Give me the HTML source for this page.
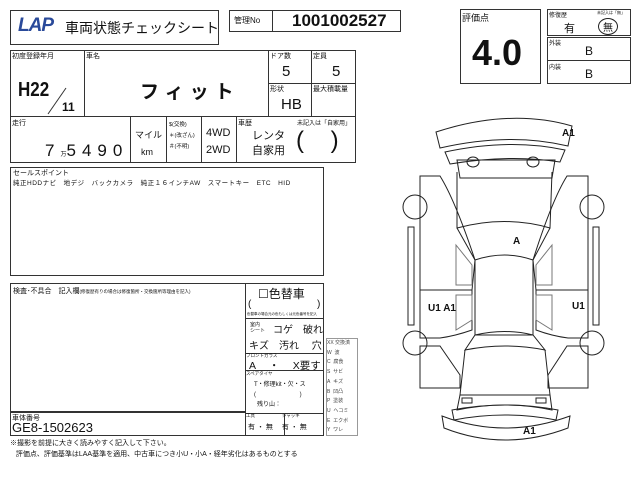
<!DOCTYPE html>
<html><head><meta charset="utf-8"><style>
body{margin:0;width:640px;height:480px;background:#fff;position:relative;overflow:hidden;font-family:"Liberation Sans","Noto Sans CJK JP",sans-serif;color:#111}
.a{position:absolute;white-space:nowrap}
.b{position:absolute;border:1.5px solid #333;box-sizing:border-box}
.l{position:absolute;background:#333}
.s{font-size:7px}
</style></head><body>
<div class="b" style="left:10px;top:10px;width:209px;height:35px"></div>
<div class="a" style="left:18px;top:15px;font-size:19px;font-weight:bold;font-style:italic;color:#2a4a9a;letter-spacing:-1px">LAP</div>
<div class="a" style="left:65px;top:18px;font-size:14px">車両状態チェックシート</div>
<div class="b" style="left:229px;top:10px;width:172px;height:22px"></div>
<div class="l" style="left:272px;top:10px;width:1px;height:22px"></div>
<div class="a" style="left:234px;top:15px;font-size:8px">管理No</div>
<div class="a" style="left:292px;top:11px;font-size:17px;font-weight:bold">1001002527</div>

<div class="b" style="left:10px;top:50px;width:346px;height:113px"></div>
<div class="l" style="left:10px;top:116px;width:346px;height:1px"></div>
<div class="l" style="left:84px;top:50px;width:1px;height:66px"></div>
<div class="l" style="left:268px;top:50px;width:1px;height:66px"></div>
<div class="l" style="left:311px;top:50px;width:1px;height:66px"></div>
<div class="l" style="left:268px;top:83px;width:88px;height:1px"></div>
<div class="a s" style="left:12px;top:51px">初度登録年月</div>
<div class="a s" style="left:86px;top:51px">車名</div>
<div class="a s" style="left:270px;top:51px">ドア数</div>
<div class="a s" style="left:313px;top:51px">定員</div>
<div class="a s" style="left:270px;top:84px">形状</div>
<div class="a s" style="left:313px;top:84px">最大積載量</div>
<div class="a" style="left:18px;top:79px;font-size:20px;font-weight:bold;transform:scaleX(0.85);transform-origin:left">H22</div>
<svg class="a" style="left:40px;top:86px" width="30" height="30"><line x1="26" y1="2" x2="8" y2="28" stroke="#333"/></svg>
<div class="a" style="left:62px;top:100px;font-size:12px;font-weight:bold">11</div>
<div class="a" style="left:140px;top:77px;font-size:19px;font-weight:bold;letter-spacing:6px">フィット</div>
<div class="a" style="left:282px;top:63px;font-size:15px">5</div>
<div class="a" style="left:332px;top:63px;font-size:15px">5</div>
<div class="a" style="left:281px;top:96px;font-size:15px">HB</div>
<div class="l" style="left:130px;top:116px;width:1px;height:47px"></div>
<div class="l" style="left:166px;top:116px;width:1px;height:47px"></div>
<div class="l" style="left:201px;top:116px;width:1px;height:47px"></div>
<div class="l" style="left:236px;top:116px;width:1px;height:47px"></div>
<div class="a s" style="left:12px;top:118px">走行</div>
<div class="a" style="left:45px;top:141px;font-size:17px;letter-spacing:6px">7<span style="font-size:6px;letter-spacing:0">万</span>5490</div>
<div class="a" style="left:135px;top:128px;font-size:9px">マイル</div>
<div class="a" style="left:141px;top:147px;font-size:9px">km</div>
<div class="a" style="left:169px;top:120px;font-size:5.5px;line-height:11px">$(交換)<br>＊(改ざん)<br>＃(不明)</div>
<div class="a" style="left:206px;top:125px;font-size:11px;line-height:17px">4WD<br>2WD</div>
<div class="a s" style="left:238px;top:118px">車歴</div>
<div class="a" style="left:297px;top:118px;font-size:6px">未記入は「自家用」</div>
<div class="a" style="left:252px;top:129px;font-size:11px;line-height:15px;text-align:center">レンタ<br>自家用</div>
<div class="a" style="left:296px;top:127px;font-size:24px;font-weight:100">(&nbsp;&nbsp;&nbsp;&nbsp;)</div>

<div class="b" style="left:10px;top:167px;width:314px;height:109px"></div>
<div class="a s" style="left:13px;top:168px">セールスポイント</div>
<div class="a" style="left:13px;top:177px;font-size:6.5px;letter-spacing:0.5px">純正HDDナビ　地デジ　バックカメラ　純正１６インチAW　スマートキー　ETC　HID</div>

<div class="b" style="left:10px;top:283px;width:314px;height:153px"></div>
<div class="l" style="left:245px;top:283px;width:1px;height:153px"></div>
<div class="l" style="left:10px;top:411px;width:235px;height:2px"></div>
<div class="a" style="left:13px;top:286px;font-size:7px">検査･不具合　記入欄<span style="font-size:4.5px">(修復歴有りの場合は修復箇所・交換箇所等理由を記入)</span></div>
<div class="a s" style="left:12px;top:413px">車体番号</div>
<div class="a" style="left:12px;top:420px;font-size:13px">GE8-1502623</div>
<div class="l" style="left:245px;top:318px;width:79px;height:1px"></div>
<div class="l" style="left:245px;top:353px;width:79px;height:1px"></div>
<div class="l" style="left:245px;top:370px;width:79px;height:1px"></div>
<div class="l" style="left:245px;top:413px;width:79px;height:1px"></div>
<div class="l" style="left:284px;top:413px;width:1px;height:23px"></div>
<div class="a" style="left:258px;top:285px;font-size:12px">☐色替車</div>
<div class="a" style="left:248px;top:299px;font-size:10px">(</div>
<div class="a" style="left:317px;top:299px;font-size:10px">)</div>
<div class="a" style="left:247px;top:312px;font-size:3.5px">色替車の場合元の色もしくは元色番号を記入</div>
<div class="a" style="left:250px;top:322px;font-size:5px;line-height:6px">室内<br>シート</div>
<div class="a" style="left:273px;top:321px;font-size:10px">コゲ　破れ</div>
<div class="a" style="left:249px;top:337px;font-size:10px">キズ　汚れ　 穴</div>
<div class="a" style="left:246px;top:353px;font-size:4.5px">フロントガラス</div>
<div class="a" style="left:249px;top:358px;font-size:10.5px">A　 ・ 　X要す</div>
<div class="a" style="left:246px;top:371px;font-size:4.5px">スペアタイヤ</div>
<div class="a" style="left:254px;top:379px;font-size:6px">T・修理kit・欠・ス</div>
<div class="a" style="left:254px;top:389px;font-size:6px">(　　　　　　　 )</div>
<div class="a" style="left:257px;top:399px;font-size:6px">残り山：</div>
<div class="a" style="left:246px;top:413px;font-size:4.5px">工具　　　　　　ジャッキ</div>
<div class="a" style="left:248px;top:422px;font-size:7px">有 ・ 無　 有 ・ 無</div>

<div class="b" style="left:326px;top:338px;width:32px;height:98px;border-width:1px;border-color:#999"></div>
<div class="a" style="left:327px;top:339px;font-size:5px;line-height:9.7px;color:#444">XX 交換済<br>W&nbsp; 波<br>C&nbsp; 腐食<br>S&nbsp; サビ<br>A&nbsp; キズ<br>B&nbsp; 凹凸<br>P&nbsp; 塗装<br>U&nbsp; ヘコミ<br>E&nbsp; エクボ<br>Y&nbsp; ワレ</div>

<div class="a" style="left:10px;top:438px;font-size:7px;line-height:11px">※撮影を前提に大きく読みやすく記入して下さい。<br>&nbsp;&nbsp;&nbsp;評価点、評価基準はLAA基準を適用、中古車につき小U・小A・経年劣化はあるものとする</div>

<div class="b" style="left:460px;top:9px;width:81px;height:75px"></div>
<div class="a" style="left:462px;top:11px;font-size:9px">評価点</div>
<div class="a" style="left:472px;top:32px;font-size:36px;font-weight:bold">4.0</div>
<div class="b" style="left:547px;top:9px;width:84px;height:27px"></div>
<div class="b" style="left:547px;top:37px;width:84px;height:47px"></div>
<div class="l" style="left:547px;top:60px;width:84px;height:1px"></div>
<div class="a" style="left:549px;top:10px;font-size:6px">修復歴</div>
<div class="a" style="left:597px;top:10px;font-size:4px">未記入は「無」</div>
<div class="a" style="left:564px;top:20px;font-size:11px">有</div>
<div class="a" style="left:598px;top:18px;font-size:10px;border:1.5px solid #222;border-radius:50%;padding:0 4px">無</div>
<div class="a" style="left:549px;top:38px;font-size:6px">外装</div>
<div class="a" style="left:585px;top:44px;font-size:12px">B</div>
<div class="a" style="left:549px;top:62px;font-size:6px">内装</div>
<div class="a" style="left:585px;top:67px;font-size:12px">B</div>

<svg class="a" style="left:400px;top:110px" width="240" height="340" viewBox="0 0 240 340" fill="none" stroke="#222" stroke-width="1">
<path d="M36 22 Q110 -2 172 16 L168 36 Q110 22 40 38 Z"/>
<path d="M45 42 Q110 28 165 40 L160 52 Q110 44 50 54 Z"/>
<path d="M57 50 L155 50 L152 68 L60 68 Z"/>
<ellipse cx="73" cy="52" rx="6" ry="5"/><ellipse cx="133" cy="52" rx="6" ry="5"/>
<path d="M57 62 L57 118 Q105 105 150 118 L152 62"/>
<path d="M57 118 L75 150 Q105 140 133 150 L150 118"/>
<path d="M75 150 L75 225 L133 225 L133 150"/>
<path d="M20 66 L40 66 Q55 90 75 150 L72 180 L20 180 Z"/>
<path d="M188 66 L167 66 Q152 90 133 150 L136 180 L188 180 Z"/>
<circle cx="15" cy="97" r="12"/><circle cx="192" cy="97" r="12"/>
<path d="M20 180 L72 180 L72 220 Q55 226 40 228 L20 228 Z"/>
<path d="M188 180 L136 180 L136 220 Q152 226 168 228 L188 228 Z"/>
<path d="M8 117 L14 117 L14 215 L8 215 Z"/><path d="M193 117 L199 117 L199 215 L193 215 Z"/>
<path d="M56 135 L72 155 L72 175 L56 175 Z" stroke="#777"/><path d="M152 135 L136 155 L136 175 L152 175 Z" stroke="#777"/>
<path d="M56 185 L72 185 L72 210 L56 220 Z" stroke="#777"/><path d="M152 185 L136 185 L136 210 L152 220 Z" stroke="#777"/>
<circle cx="15" cy="233" r="12"/><circle cx="192" cy="233" r="12"/>
<path d="M20 236 L40 236 L60 265 L60 278 L20 278 Z"/><path d="M188 236 L167 236 L148 265 L148 278 L188 278 Z"/>
<path d="M75 225 Q105 218 133 225 L145 240 Q105 232 65 240 Z"/>
<path d="M65 240 L60 285 L150 285 L145 240"/>
<path d="M60 285 L57 300 Q105 290 152 300 L150 285"/>
<rect x="62" y="288" width="10" height="5"/><rect x="136" y="288" width="10" height="5"/>
<path d="M52 300 Q105 290 158 300 L156 310 Q105 300 54 310 Z"/>
<path d="M42 306 Q105 330 170 306 L168 318 Q105 342 44 318 Z"/>
</svg>
<div class="a" style="left:562px;top:128px;font-size:10px;font-weight:bold">A1</div>
<div class="a" style="left:513px;top:236px;font-size:10px;font-weight:bold">A</div>
<div class="a" style="left:428px;top:303px;font-size:10px;font-weight:bold">U1 A1</div>
<div class="a" style="left:572px;top:301px;font-size:10px;font-weight:bold">U1</div>
<div class="a" style="left:523px;top:426px;font-size:10px;font-weight:bold">A1</div>
</body></html>
